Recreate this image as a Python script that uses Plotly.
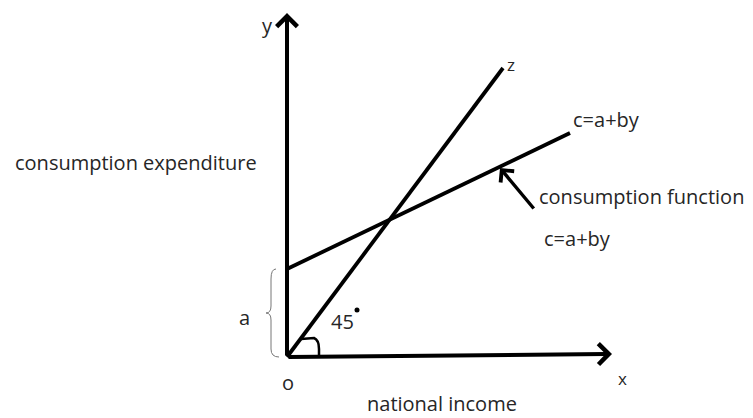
import plotly.graph_objects as go

# Diagram values (data units, origin at o)
x_axis_end = [325, 3]
y_axis_end = [0, 344]
z_line_x = [0, 216]
z_line_y = [0, 289]
cons_x = [0, 283]
cons_y = [88, 224]
a_intercept = 88
angle_label = "45"

labels = [
    ("y", -20, 332, "center", 20),
    ("z", 224, 293, "center", 17),
    ("c=a+by", 285, 238, "left", 20),
    ("consumption function", 251, 161, "left", 20),
    ("c=a+by", 256, 119, "left", 20),
    ("consumption expenditure", -273, 195, "left", 20),
    ("a", -43, 40, "center", 20),
    ("o", 1, -25, "center", 20),
    ("x", 335, -21, "center", 17),
    ("national income", 155, -46, "center", 20),
]

fig = go.Figure()
fig.add_trace(go.Scatter(x=z_line_x, y=z_line_y, mode="lines",
                         line=dict(color="black", width=3.8), hoverinfo="skip"))
fig.add_trace(go.Scatter(x=cons_x, y=cons_y, mode="lines",
                         line=dict(color="black", width=3.8), hoverinfo="skip"))

# axes with arrows
for tip in (x_axis_end, y_axis_end):
    fig.add_annotation(x=tip[0], y=tip[1], ax=0, ay=0, axref="x", ayref="y",
                       xref="x", yref="y", showarrow=True, arrowhead=4,
                       arrowsize=1, arrowwidth=4, arrowcolor="black", text="")

# consumption function pointer arrow
fig.add_annotation(x=213, y=189, ax=35, ay=42, xref="x", yref="y",
                   showarrow=True, arrowhead=4, arrowsize=1, arrowwidth=3.4,
                   arrowcolor="black", text="")

# brace for a
a = a_intercept
bx = -16
brace = (f"M -11,{a} Q {bx},{a} {bx},{a-10} L {bx},{a/2+7} "
         f"Q {bx},{a/2} {bx-5},{a/2} Q {bx},{a/2} {bx},{a/2-7} "
         f"L {bx},8 Q {bx},0 -8,0")
fig.add_shape(type="path", path=brace, xref="x", yref="y",
              line=dict(color="#777", width=1))

# right-angle-ish mark near origin
fig.add_shape(type="path", xref="x", yref="y",
              path="M 14,18 L 27,19 Q 32,17 32,8 L 32,0",
              line=dict(color="black", width=2.5))

for txt, x, y, anc, sz in labels:
    fig.add_annotation(x=x, y=y, text=txt, showarrow=False, xanchor=anc,
                       yanchor="middle", xref="x", yref="y", borderpad=0,
                       font=dict(family="Open Sans", size=sz, color="#262626"))

fig.add_annotation(x=55, y=36, text=angle_label, showarrow=False, xref="x", yref="y",
                   font=dict(family="Open Sans", size=20, color="#262626"))
fig.add_trace(go.Scatter(x=[70], y=[47], mode="markers",
                         marker=dict(color="black", size=5), hoverinfo="skip"))

fig.update_layout(width=753, height=418, margin=dict(l=0, r=0, t=0, b=0),
                  paper_bgcolor="white", plot_bgcolor="white", showlegend=False)
fig.update_xaxes(range=[-279, 474], visible=False, fixedrange=True)
fig.update_yaxes(range=[-69, 349], visible=False, fixedrange=True)
fig.write_html("out.html")
